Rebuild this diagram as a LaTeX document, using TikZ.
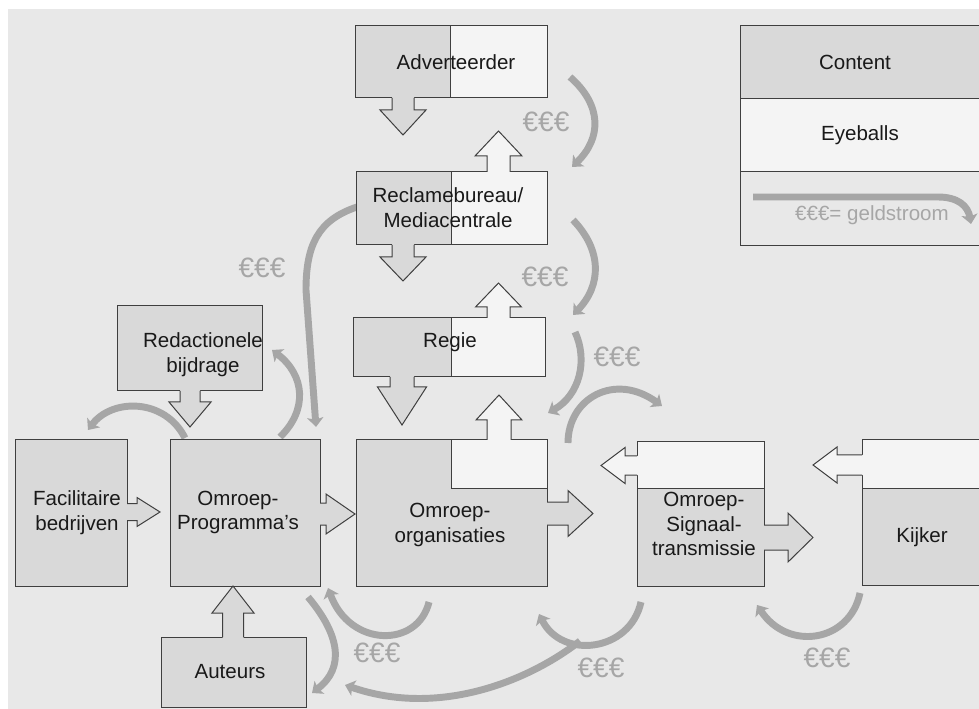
\documentclass[tikz,border=0pt]{standalone}
\usepackage{fontspec}
\setmainfont{Liberation Sans}
\usetikzlibrary{arrows.meta}

\definecolor{bg}{HTML}{E8E8E8}
\definecolor{content}{HTML}{D9D9D9}
\definecolor{eyeball}{HTML}{F4F4F4}
\definecolor{money}{HTML}{A6A6A6}
\definecolor{edgecol}{HTML}{3F3F3F}

\tikzset{
  edge/.style={draw=edgecol, line width=0.75pt, line join=miter},
  flow/.style={draw=money, line width=5.2pt,
    -{Stealth[length=7pt,width=12pt,inset=1.5pt]}},
  lbl/.style={font=\fontsize{15.4}{18.6}\selectfont, text=black!90,
    align=center, inner sep=0pt},
  euro/.style={font=\fontsize{21}{24}\selectfont, text=money, inner sep=0pt},
  legendtxt/.style={font=\fontsize{15.4}{18}\selectfont, text=money, inner sep=0pt},
}

% Block arrows: #1 fill, #2 centre line, #3 base (box edge), #4 half shaft,
% #5 head base, #6 half head, #7 tip
\newcommand\arrDown[7]{%
  \fill[#1] ({#2-#4},{#3-2}) -- ({#2-#4},#5) -- ({#2-#6},#5) -- (#2,#7)
    -- ({#2+#6},#5) -- ({#2+#4},#5) -- ({#2+#4},{#3-2}) -- cycle;
  \draw[edge] ({#2-#4},#3) -- ({#2-#4},#5) -- ({#2-#6},#5) -- (#2,#7)
    -- ({#2+#6},#5) -- ({#2+#4},#5) -- ({#2+#4},#3);}
\newcommand\arrUp[7]{%
  \fill[#1] ({#2-#4},{#3+2}) -- ({#2-#4},#5) -- ({#2-#6},#5) -- (#2,#7)
    -- ({#2+#6},#5) -- ({#2+#4},#5) -- ({#2+#4},{#3+2}) -- cycle;
  \draw[edge] ({#2-#4},#3) -- ({#2-#4},#5) -- ({#2-#6},#5) -- (#2,#7)
    -- ({#2+#6},#5) -- ({#2+#4},#5) -- ({#2+#4},#3);}
\newcommand\arrRight[7]{%
  \fill[#1] ({#3-2},{#2-#4}) -- (#5,{#2-#4}) -- (#5,{#2-#6}) -- (#7,#2)
    -- (#5,{#2+#6}) -- (#5,{#2+#4}) -- ({#3-2},{#2+#4}) -- cycle;
  \draw[edge] (#3,{#2-#4}) -- (#5,{#2-#4}) -- (#5,{#2-#6}) -- (#7,#2)
    -- (#5,{#2+#6}) -- (#5,{#2+#4}) -- (#3,{#2+#4});}
\newcommand\arrLeft[7]{%
  \fill[#1] ({#3+2},{#2-#4}) -- (#5,{#2-#4}) -- (#5,{#2-#6}) -- (#7,#2)
    -- (#5,{#2+#6}) -- (#5,{#2+#4}) -- ({#3+2},{#2+#4}) -- cycle;
  \draw[edge] (#3,{#2-#4}) -- (#5,{#2-#4}) -- (#5,{#2-#6}) -- (#7,#2)
    -- (#5,{#2+#6}) -- (#5,{#2+#4}) -- (#3,{#2+#4});}

\begin{document}
\begin{tikzpicture}[x=0.75pt,y=-0.75pt]
\useasboundingbox (0,0) rectangle (979,709);
\clip (0,0) rectangle (979,709);
\fill[white] (0,0) rectangle (979,709);
\fill[bg] (8,9) rectangle (985,715);

% ---------- money flows ----------
\coordinate (m1a) at (570,77);   \coordinate (m1b) at (572,167);
\coordinate (m2a) at (573,220);  \coordinate (m2b) at (573,315);
\coordinate (m3a) at (575,332);  \coordinate (m3b) at (548,413);
\coordinate (m4a) at (568,443);  \coordinate (m4b) at (662,406);
\coordinate (m5a) at (357,207);  \coordinate (m5b) at (316,427);
\coordinate (m6a) at (280,437);  \coordinate (m6b) at (272,350);
\coordinate (m7a) at (185,438);  \coordinate (m7b) at (88,430);
\coordinate (m8a) at (308,597);  \coordinate (m8b) at (312,693);
\coordinate (m9a) at (429,602);  \coordinate (m9b) at (328,588);
\coordinate (mYa) at (641,602);  \coordinate (mYb) at (539,614);
\coordinate (mYj) at (580,641);  \coordinate (mYc) at (345,685);
\coordinate (mKa) at (860,593);  \coordinate (mKb) at (757,605);

\draw[flow] (m1a) .. controls (602,105) and (602,138) .. (m1b);
\draw[flow] (m2a) .. controls (602,250) and (602,285) .. (m2b);
\draw[flow] (m3a) .. controls (588,360) and (580,395) .. (m3b);
\draw[flow] (m4a) .. controls (568,398) and (615,372) .. (m4b);
\draw[flow] (m5a) .. controls (318,220) and (306,245) .. (306,290) -- (m5b);
\draw[flow] (m6a) .. controls (308,410) and (305,375) .. (m6b);
\draw[flow] (m7a) .. controls (165,398) and (112,398) .. (m7b);
\draw[flow] (m8a) .. controls (340,635) and (345,668) .. (m8b);
\draw[flow] (m9a) .. controls (418,648) and (350,648) .. (m9b);
\draw[flow] (mYa) .. controls (630,652) and (562,660) .. (mYb);
\draw[flow] (mYj) .. controls (530,680) and (440,718) .. (mYc);
\draw[flow] (mKa) .. controls (850,642) and (788,652) .. (mKb);

\node[euro] (e1) at (546,122) {€€€};
\node[euro] (e2) at (545,277) {€€€};
\node[euro] (e3) at (617,357) {€€€};
\node[euro] (e4) at (262,268) {€€€};
\node[euro] (e5) at (377,653) {€€€};
\node[euro] (e6) at (601,668) {€€€};
\node[euro] (e7) at (827,658) {€€€};

% ---------- legend ----------
\fill[content] (740,26) rectangle (990,99);
\fill[eyeball] (740,99) rectangle (990,172);
\draw[edge] (990,26) -- (740,26) -- (740,246) -- (990,246);
\draw[edge] (740,99) -- (990,99);
\draw[edge] (740,172) -- (990,172);
\node[lbl] (lgc) at (855,62) {Content};
\node[lbl] (lge) at (860,135) {Eyeballs};
\coordinate (lga) at (753,197);
\coordinate (lgb) at (971,224);
\draw[flow] (lga) -- (938,197) .. controls (958,197) and (968,206) .. (lgb);
\node[legendtxt] (lgt) at (872,215) {€€€= geldstroom};

% ---------- Adverteerder ----------
\fill[content] (355,26) rectangle (450,98);
\fill[eyeball] (450,26) rectangle (547,98);
\draw[edge] (355,26) rectangle (547,98);
\draw[edge] (450,26) -- (450,98);
\arrDown{content}{403}{98}{11}{110}{23}{135}
\node[lbl] (adv) at (456,62) {Adverteerder};

% ---------- Reclamebureau ----------
\fill[content] (356,172) rectangle (451,245);
\fill[eyeball] (451,172) rectangle (547,245);
\draw[edge] (356,172) rectangle (547,245);
\draw[edge] (451,172) -- (451,245);
\arrUp{eyeball}{498.5}{172}{11.5}{156}{23.5}{131}
\arrDown{content}{403}{245}{11}{257}{23}{281}
\node[lbl] (rec) at (448,207.5) {Reclamebureau/\\Mediacentrale};

% ---------- Regie ----------
\fill[content] (353,318) rectangle (451,377);
\fill[eyeball] (451,318) rectangle (545,377);
\draw[edge] (353,318) rectangle (545,377);
\draw[edge] (451,318) -- (451,377);
\arrUp{eyeball}{498.5}{318}{11.5}{307}{23}{283}
\arrDown{content}{402}{377}{12}{387}{24.5}{425}
\node[lbl] (reg) at (450,342) {Regie};

% ---------- Omroep-organisaties ----------
\fill[content] (356,440) rectangle (547,586);
\fill[eyeball] (451,440) rectangle (547,488);
\draw[edge] (356,440) rectangle (547,586);
\draw[edge] (451,440) -- (451,488) -- (547,488);
\arrUp{eyeball}{499}{440}{12}{420}{23}{395}
\arrRight{content}{513.5}{547}{11.5}{568}{23}{593}
\node[lbl] (org) at (450,525) {Omroep-\\organisaties};

% ---------- Omroep-Programma's ----------
\fill[content] (170,440) rectangle (320,586);
\draw[edge] (170,440) rectangle (320,586);
\arrRight{content}{514}{320}{11}{326}{20}{355}
\node[lbl] (prg) at (238,512.5) {Omroep-\\Programma’s};

% ---------- Facilitaire bedrijven ----------
\fill[content] (15,440) rectangle (127,586);
\draw[edge] (15,440) rectangle (127,586);
\arrRight{content}{512}{127}{8.5}{137}{14.5}{160}
\node[lbl] (fac) at (77,513) {Facilitaire\\bedrijven};

% ---------- Redactionele bijdrage ----------
\fill[content] (117,306) rectangle (262,391);
\draw[edge] (117,306) rectangle (262,391);
\arrDown{content}{190}{391}{10}{402}{21}{427}
\node[lbl] (red) at (203,354.5) {Redactionele\\bijdrage};

% ---------- Auteurs ----------
\fill[content] (161,637) rectangle (306,707);
\draw[edge] (161,637) rectangle (306,707);
\arrUp{content}{233}{637}{10.5}{613}{21}{586}
\node[lbl] (aut) at (230,672) {Auteurs};

% ---------- Omroep-Signaaltransmissie ----------
\fill[eyeball] (637,442) rectangle (764,488);
\fill[content] (637,488) rectangle (764,586);
\draw[edge] (637,442) rectangle (764,586);
\draw[edge] (637,488) -- (764,488);
\arrLeft{eyeball}{465.5}{637}{9.5}{625}{18}{601}
\arrRight{content}{537.5}{764}{12.5}{788}{24.5}{813}
\node[lbl] (sig) at (704,524) {Omroep-\\Signaal-\\transmissie};

% ---------- Kijker ----------
\fill[eyeball] (862,440) rectangle (990,488);
\fill[content] (862,488) rectangle (990,585);
\draw[edge] (990,440) -- (862,440) -- (862,585) -- (990,585);
\draw[edge] (862,488) -- (990,488);
\arrLeft{eyeball}{465}{862}{10}{837}{18}{813}
\node[lbl] (kij) at (922,537) {Kijker};
\end{tikzpicture}
\end{document}
